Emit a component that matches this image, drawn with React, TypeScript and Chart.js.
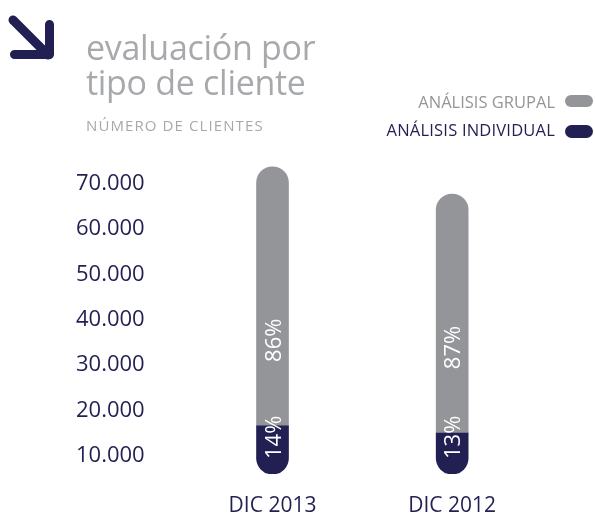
import React, { useEffect, useRef } from "react";
import { Chart, registerables } from "chart.js";

Chart.register(...registerables);

// ---- data ----
const CATEGORIES = ["DIC 2013", "DIC 2012"];
const SERIES_NAMES = ["ANÁLISIS GRUPAL", "ANÁLISIS INDIVIDUAL"];
const INDIVIDUAL = [10600, 9000];
const GRUPAL = [57100, 52700];
const INDIVIDUAL_PCT = ["14%", "13%"];
const GRUPAL_PCT = ["86%", "87%"];
const Y_TICK_VALUES = [10000, 20000, 30000, 40000, 50000, 60000, 70000];
const Y_TICK_LABELS = ["10.000", "20.000", "30.000", "40.000", "50.000", "60.000", "70.000"];

const NAVY = "#221f52";
const GRAY = "#939598";
const LIGHT = "#a7a9ac";
const FONT = "'Open Sans', sans-serif";

const pctPlugin = {
  id: "pctLabels",
  afterDatasetsDraw(chart: any) {
    const ctx = chart.ctx;
    const sets = [
      { idx: 0, labels: INDIVIDUAL_PCT, offset: 15 },
      { idx: 1, labels: GRUPAL_PCT, offset: 64 },
    ];
    ctx.save();
    ctx.fillStyle = "#ffffff";
    ctx.font = `22px ${FONT}`;
    ctx.textAlign = "left";
    ctx.textBaseline = "alphabetic";
    sets.forEach((s) => {
      const meta = chart.getDatasetMeta(s.idx);
      meta.data.forEach((bar: any, i: number) => {
        const p = bar.getProps(["x", "base"], true);
        ctx.save();
        ctx.translate(p.x, p.base - s.offset);
        ctx.rotate(-Math.PI / 2);
        ctx.fillText(s.labels[i], 0, 8);
        ctx.restore();
      });
    });
    ctx.restore();
  },
};

function BarChart() {
  const ref = useRef<HTMLCanvasElement | null>(null);
  useEffect(() => {
    if (!ref.current) return;
    const chart = new Chart(ref.current, {
      type: "bar",
      data: {
        labels: CATEGORIES,
        datasets: [
          {
            label: SERIES_NAMES[1],
            data: INDIVIDUAL,
            backgroundColor: NAVY,
            borderSkipped: false,
            borderRadius: { topLeft: 0, topRight: 0, bottomLeft: 16, bottomRight: 16 },
            barThickness: 32,
            yAxisID: "y",
          },
          {
            label: SERIES_NAMES[0],
            data: GRUPAL,
            backgroundColor: GRAY,
            borderSkipped: false,
            borderRadius: { topLeft: 16, topRight: 16, bottomLeft: 0, bottomRight: 0 },
            barThickness: 32,
            yAxisID: "y",
          },
        ],
      },
      options: {
        animation: false,
        responsive: false,
        maintainAspectRatio: false,
        layout: { padding: { top: 160, left: 38, right: 53, bottom: 0 } },
        plugins: { legend: { display: false }, tooltip: { enabled: false } },
        scales: {
          x: {
            stacked: true,
            grid: { display: false, drawTicks: false },
            border: { display: false },
            ticks: { color: NAVY, font: { family: FONT, size: 21, lineHeight: 1 }, padding: 22 },
          },
          y: { type: "linear", stacked: true, display: false, min: 0, max: 69200 },
          yTicks: {
            type: "linear",
            axis: "y",
            position: "left",
            min: 6000,
            max: 75200,
            grid: { display: false, drawTicks: false },
            border: { display: false },
            afterBuildTicks: (scale: any) => {
              scale.ticks = Y_TICK_VALUES.map((v) => ({ value: v }));
            },
            ticks: {
              color: NAVY,
              font: { family: FONT, size: 22 },
              padding: 38,
              callback: (v: any) => Y_TICK_LABELS[Y_TICK_VALUES.indexOf(Number(v))],
            },
          },
        } as any,
      },
      plugins: [pctPlugin],
    } as any);
    return () => chart.destroy();
  }, []);
  return <canvas ref={ref} width={595} height={539} style={{ position: "absolute", left: 0, top: 0 }} />;
}

export default function App() {
  return (
    <div style={{ position: "fixed", left: 0, top: 0, width: 595, height: 515, background: "#fff", overflow: "hidden", fontFamily: FONT }}>
      <BarChart />
      <svg width={70} height={70} style={{ position: "absolute", left: 0, top: 0 }}>
        <g stroke={NAVY} strokeWidth={9} strokeLinecap="round" strokeLinejoin="round" fill="none">
          <path d="M13 20 L48 55" />
          <path d="M49.5 24.5 V54.5 H14.5" />
        </g>
      </svg>
      <div style={{ position: "absolute", left: 86, top: 29.5, fontSize: 34, lineHeight: "35px", letterSpacing: -0.3, color: LIGHT, whiteSpace: "nowrap" }}>
        evaluación por
        <br />
        tipo de cliente
      </div>
      <div style={{ position: "absolute", left: 86, top: 117.5, fontSize: 15, lineHeight: "15px", color: LIGHT, letterSpacing: 1.1, whiteSpace: "nowrap" }}>
        NÚMERO DE CLIENTES
      </div>
      <div style={{ position: "absolute", right: 40, top: 94, fontSize: 16.5, lineHeight: "16px", color: GRAY, whiteSpace: "nowrap", textAlign: "right" }}>
        {SERIES_NAMES[0]}
      </div>
      <div style={{ position: "absolute", right: 40, top: 122, fontSize: 16.5, lineHeight: "16px", color: NAVY, whiteSpace: "nowrap", textAlign: "right", letterSpacing: 0.2 }}>
        {SERIES_NAMES[1]}
      </div>
      <div style={{ position: "absolute", left: 565, top: 95, width: 28, height: 12, borderRadius: 6, background: GRAY }} />
      <div style={{ position: "absolute", left: 565, top: 125, width: 28, height: 13, borderRadius: 6.5, background: NAVY }} />
    </div>
  );
}
